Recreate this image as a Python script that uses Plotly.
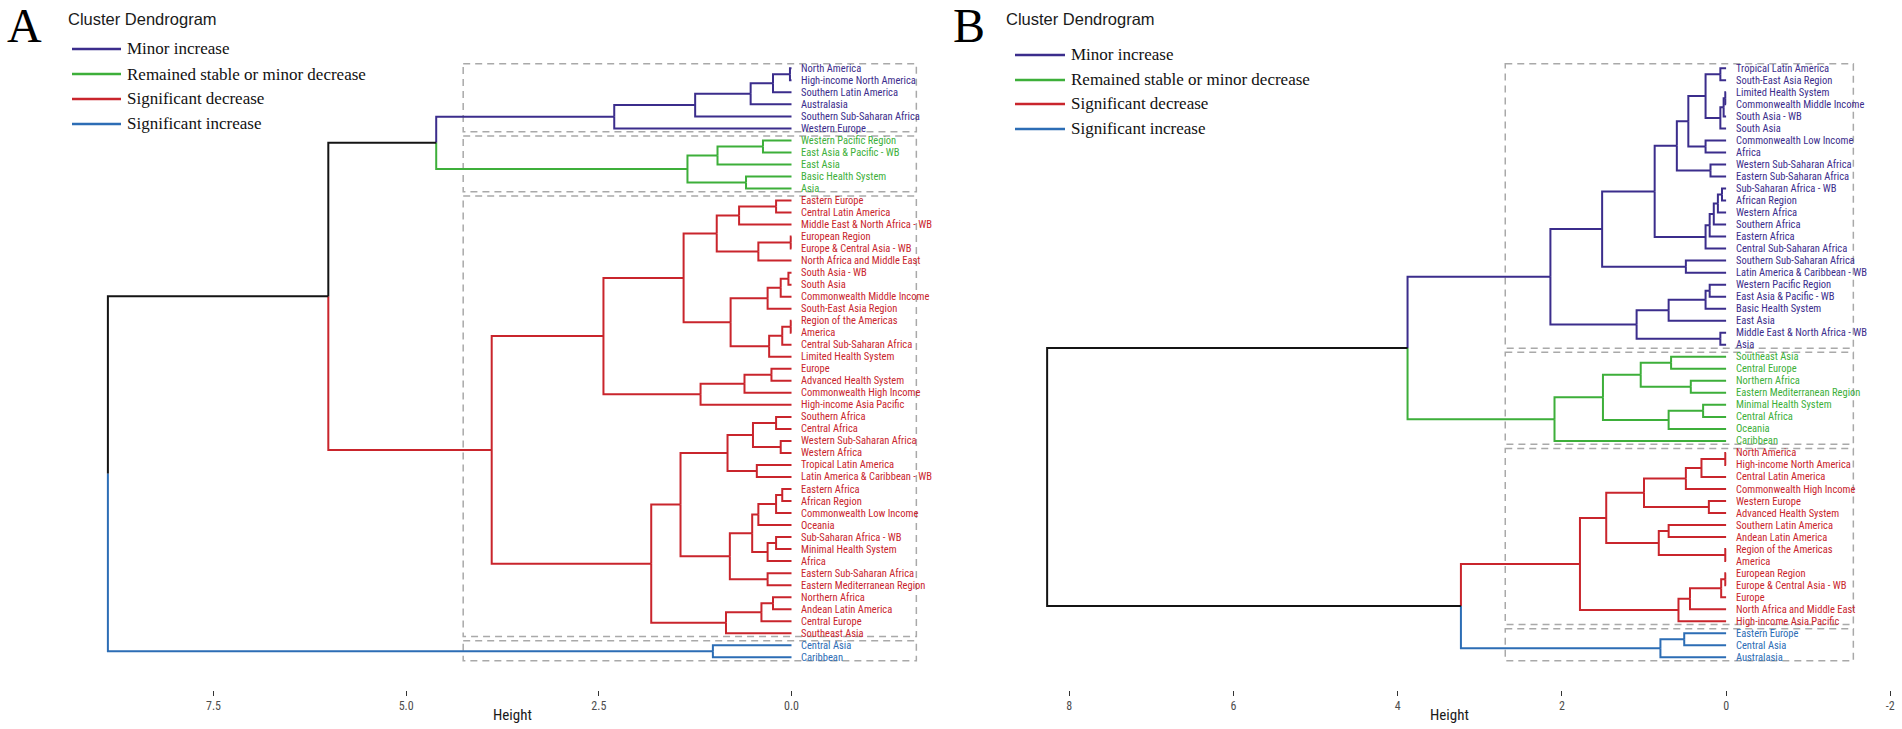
import plotly.graph_objects as go

W, H = 1902, 729

# ---------------- data ----------------
CLUSTER_NAMES = ["Minor increase", "Remained stable or minor decrease",
                 "Significant decrease", "Significant increase"]
CLUSTER_COLORS = ["#3B2D8C", "#3DAF3A", "#C9252C", "#2C6DB5"]
BLACK = "#141414"

# Panel A
A_leaves = [
    "North America", "High-income North America", "Southern Latin America", "Australasia",
    "Southern Sub-Saharan Africa", "Western Europe",
    "Western Pacific Region", "East Asia & Pacific - WB", "East Asia", "Basic Health System", "Asia",
    "Eastern Europe", "Central Latin America", "Middle East & North Africa - WB", "European Region",
    "Europe & Central Asia - WB", "North Africa and Middle East", "South Asia - WB", "South Asia",
    "Commonwealth Middle Income", "South-East Asia Region", "Region of the Americas", "America",
    "Central Sub-Saharan Africa", "Limited Health System", "Europe", "Advanced Health System",
    "Commonwealth High Income", "High-income Asia Pacific", "Southern Africa", "Central Africa",
    "Western Sub-Saharan Africa", "Western Africa", "Tropical Latin America",
    "Latin America & Caribbean - WB", "Eastern Africa", "African Region", "Commonwealth Low Income",
    "Oceania", "Sub-Saharan Africa - WB", "Minimal Health System", "Africa",
    "Eastern Sub-Saharan Africa", "Eastern Mediterranean Region", "Northern Africa",
    "Andean Latin America", "Central Europe", "Southeast Asia",
    "Central Asia", "Caribbean",
]
A_cluster_sizes = [6, 5, 37, 2]
# (left, right, height): a string is a leaf, an int refers to an earlier merge
A_merges = [
    ("North America", "High-income North America", 0.02),          # 0
    (0, "Southern Latin America", 0.24),                            # 1
    (1, "Australasia", 0.53),                                       # 2
    (2, "Southern Sub-Saharan Africa", 1.25),                       # 3
    (3, "Western Europe", 2.30),                                    # 4
    ("Western Pacific Region", "East Asia & Pacific - WB", 0.37),   # 5
    (5, "East Asia", 0.96),                                         # 6
    ("Basic Health System", "Asia", 0.59),                          # 7
    (6, 7, 1.35),                                                   # 8
    (4, 8, 4.61),                                                   # 9
    ("Eastern Europe", "Central Latin America", 0.20),              # 10
    (10, "Middle East & North Africa - WB", 0.68),                  # 11
    ("European Region", "Europe & Central Asia - WB", 0.01),        # 12
    (12, "North Africa and Middle East", 0.43),                     # 13
    (11, 13, 0.97),                                                 # 14
    ("South Asia - WB", "South Asia", 0.04),                        # 15
    (15, "Commonwealth Middle Income", 0.14),                       # 16
    (16, "South-East Asia Region", 0.31),                           # 17
    ("Region of the Americas", "America", 0.01),                    # 18
    (18, "Central Sub-Saharan Africa", 0.12),                       # 19
    (19, "Limited Health System", 0.29),                            # 20
    (17, 20, 0.79),                                                 # 21
    (14, 21, 1.40),                                                 # 22
    ("Europe", "Advanced Health System", 0.26),                     # 23
    (23, "Commonwealth High Income", 0.61),                         # 24
    (24, "High-income Asia Pacific", 1.18),                         # 25
    (22, 25, 2.44),                                                 # 26
    ("Southern Africa", "Central Africa", 0.20),                    # 27
    ("Western Sub-Saharan Africa", "Western Africa", 0.14),         # 28
    (27, 28, 0.50),                                                 # 29
    ("Tropical Latin America", "Latin America & Caribbean - WB", 0.45),  # 30
    (29, 30, 0.83),                                                 # 31
    ("Eastern Africa", "African Region", 0.12),                     # 32
    (32, "Commonwealth Low Income", 0.20),                          # 33
    (33, "Oceania", 0.43),                                          # 34
    ("Sub-Saharan Africa - WB", "Minimal Health System", 0.20),     # 35
    (35, "Africa", 0.31),                                           # 36
    (34, 36, 0.51),                                                 # 37
    ("Eastern Sub-Saharan Africa", "Eastern Mediterranean Region", 0.31),  # 38
    (37, 38, 0.80),                                                 # 39
    (31, 39, 1.44),                                                 # 40
    ("Northern Africa", "Andean Latin America", 0.24),              # 41
    (41, "Central Europe", 0.39),                                   # 42
    (42, "Southeast Asia", 0.85),                                   # 43
    (40, 43, 1.82),                                                 # 44
    (26, 44, 3.89),                                                 # 45
    (9, 45, 6.01),                                                  # 46
    ("Central Asia", "Caribbean", 1.02),                            # 47
    (46, 47, 8.87),                                                 # 48
]
A_tickvals = [7.5, 5.0, 2.5, 0.0]
A_ticktext = ["7.5", "5.0", "2.5", "0.0"]

# Panel B
B_leaves = [
    "Tropical Latin America", "South-East Asia Region", "Limited Health System",
    "Commonwealth Middle Income", "South Asia - WB", "South Asia", "Commonwealth Low Income",
    "Africa", "Western Sub-Saharan Africa", "Eastern Sub-Saharan Africa", "Sub-Saharan Africa - WB",
    "African Region", "Western Africa", "Southern Africa", "Eastern Africa",
    "Central Sub-Saharan Africa", "Southern Sub-Saharan Africa", "Latin America & Caribbean - WB",
    "Western Pacific Region", "East Asia & Pacific - WB", "Basic Health System", "East Asia",
    "Middle East & North Africa - WB", "Asia",
    "Southeast Asia", "Central Europe", "Northern Africa", "Eastern Mediterranean Region",
    "Minimal Health System", "Central Africa", "Oceania", "Caribbean",
    "North America", "High-income North America", "Central Latin America",
    "Commonwealth High Income", "Western Europe", "Advanced Health System",
    "Southern Latin America", "Andean Latin America", "Region of the Americas", "America",
    "European Region", "Europe & Central Asia - WB", "Europe", "North Africa and Middle East",
    "High-income Asia Pacific",
    "Eastern Europe", "Central Asia", "Australasia",
]
B_cluster_sizes = [24, 8, 15, 3]
B_merges = [
    ("Tropical Latin America", "South-East Asia Region", 0.07),     # 0
    ("Limited Health System", "Commonwealth Middle Income", 0.01),  # 1
    (1, "South Asia - WB", 0.03),                                   # 2
    (2, "South Asia", 0.07),                                        # 3
    (0, 3, 0.25),                                                   # 4
    ("Commonwealth Low Income", "Africa", 0.25),                    # 5
    (4, 5, 0.46),                                                   # 6
    ("Western Sub-Saharan Africa", "Eastern Sub-Saharan Africa", 0.19),  # 7
    (6, 7, 0.60),                                                   # 8
    ("Sub-Saharan Africa - WB", "African Region", 0.05),            # 9
    (9, "Western Africa", 0.10),                                    # 10
    (10, "Southern Africa", 0.15),                                  # 11
    (11, "Eastern Africa", 0.20),                                   # 12
    (12, "Central Sub-Saharan Africa", 0.25),                       # 13
    (8, 13, 0.87),                                                  # 14
    ("Southern Sub-Saharan Africa", "Latin America & Caribbean - WB", 0.49),  # 15
    (14, 15, 1.51),                                                 # 16
    ("Western Pacific Region", "East Asia & Pacific - WB", 0.20),   # 17
    (17, "Basic Health System", 0.25),                              # 18
    (18, "East Asia", 0.70),                                        # 19
    ("Middle East & North Africa - WB", "Asia", 0.07),              # 20
    (19, 20, 1.09),                                                 # 21
    (16, 21, 2.14),                                                 # 22
    ("Southeast Asia", "Central Europe", 0.67),                     # 23
    ("Northern Africa", "Eastern Mediterranean Region", 0.43),      # 24
    (23, 24, 1.04),                                                 # 25
    ("Minimal Health System", "Central Africa", 0.28),              # 26
    (26, "Oceania", 0.70),                                          # 27
    (25, 27, 1.50),                                                 # 28
    (28, "Caribbean", 2.09),                                        # 29
    (22, 29, 3.88),                                                 # 30
    ("North America", "High-income North America", 0.01),           # 31
    (31, "Central Latin America", 0.30),                            # 32
    (32, "Commonwealth High Income", 0.49),                         # 33
    ("Western Europe", "Advanced Health System", 0.21),             # 34
    (33, 34, 1.00),                                                 # 35
    ("Southern Latin America", "Andean Latin America", 0.70),       # 36
    ("Region of the Americas", "America", 0.01),                    # 37
    (36, 37, 0.82),                                                 # 38
    (35, 38, 1.46),                                                 # 39
    ("European Region", "Europe & Central Asia - WB", 0.01),        # 40
    (40, "Europe", 0.06),                                           # 41
    (41, "North Africa and Middle East", 0.44),                     # 42
    (42, "High-income Asia Pacific", 0.58),                         # 43
    (39, 43, 1.78),                                                 # 44
    ("Eastern Europe", "Central Asia", 0.51),                       # 45
    (45, "Australasia", 0.80),                                      # 46
    (44, 46, 3.23),                                                 # 47
    (30, 47, 8.27),                                                 # 48
]
B_tickvals = [8, 6, 4, 2, 0, -2]
B_ticktext = ["8", "6", "4", "2", "0", "-2"]

# ---------------- layout helpers ----------------
NARROW = "Liberation Sans Narrow, Arial Narrow, Roboto Condensed, sans-serif"
SANS = "Liberation Sans, Arial, sans-serif"
SERIF = "Liberation Serif, Times New Roman, serif"
BOX_COLOR = "#A9A9A9"

def px_x(px):
    return px / W

def px_y(py):
    return 1 - py / H

# y axis: leaf 1 at px 68.3, spacing 12.02 px; plot bottom at px 690
LEAF0, PITCH, PLOT_BOTTOM = 68.3, 12.02, 690.0
Y_TOP = 1 - LEAF0 / PITCH
Y_BOT = 1 + (PLOT_BOTTOM - LEAF0) / PITCH
Y_DOMAIN = [(H - PLOT_BOTTOM) / H, 1]


def dendro_segments(leaves, sizes, merges):
    leaf_cluster = []
    for ci, s in enumerate(sizes):
        leaf_cluster += [ci] * s
    info = {}
    for i, name in enumerate(leaves):
        info[name] = (0.0, i + 1.0, {leaf_cluster[i]})
    nodes = []
    segs = {}
    for k, (l, r, h) in enumerate(merges):
        cl = info[l] if isinstance(l, str) else nodes[l]
        cr = info[r] if isinstance(r, str) else nodes[r]
        y = (cl[1] + cr[1]) / 2.0
        for ch in (cl, cr):
            col = CLUSTER_COLORS[next(iter(ch[2]))] if len(ch[2]) == 1 else BLACK
            xs, ys = segs.setdefault(col, ([], []))
            xs += [ch[0], h, h, None]
            ys += [ch[1], ch[1], y, None]
        nodes.append((h, y, cl[2] | cr[2]))
    return segs, leaf_cluster


fig = go.Figure()

panels = [
    dict(leaves=A_leaves, sizes=A_cluster_sizes, merges=A_merges, xa="x", ya="y",
         tickvals=A_tickvals, ticktext=A_ticktext,
         box=(4.26, -1.62), label_shift=7, letter="A", letter_x=5,
         title_x=68, leg_line=(72, 121), leg_text=127, leg_rows=[49, 74, 99, 124],
         height_x=512),
    dict(leaves=B_leaves, sizes=B_cluster_sizes, merges=B_merges, xa="x2", ya="y2",
         tickvals=B_tickvals, ticktext=B_ticktext,
         box=(2.69, -1.55), label_shift=8, letter="B", letter_x=951,
         title_x=1006, leg_line=(1015, 1065), leg_text=1071, leg_rows=[55, 80, 104, 129],
         height_x=1449),
]

shapes = []
annotations = []

for p in panels:
    segs, leaf_cluster = dendro_segments(p["leaves"], p["sizes"], p["merges"])
    for col, (xs, ys) in segs.items():
        fig.add_trace(go.Scatter(x=xs, y=ys, mode="lines", xaxis=p["xa"], yaxis=p["ya"],
                                 line=dict(color=col, width=2), hoverinfo="skip",
                                 showlegend=False))
    # leaf labels
    for i, name in enumerate(p["leaves"]):
        annotations.append(dict(
            x=0, y=i + 1, xref=p["xa"], yref=p["ya"], text=name, showarrow=False,
            xanchor="left", yanchor="middle", xshift=p["label_shift"],
            font=dict(family=NARROW, size=10.5, color=CLUSTER_COLORS[leaf_cluster[i]])))
    # dashed cluster boxes
    start = 1
    for s in p["sizes"]:
        shapes.append(dict(type="rect", xref=p["xa"], yref=p["ya"],
                           x0=p["box"][0], x1=p["box"][1],
                           y0=start - 0.37, y1=start + s - 1 + 0.28,
                           line=dict(color=BOX_COLOR, width=1.5, dash="7px,5px"),
                           fillcolor="rgba(0,0,0,0)", layer="below"))
        start += s
    # panel letter, title, legend, axis title
    annotations.append(dict(x=px_x(p["letter_x"]), y=px_y(26), xref="paper", yref="paper",
                            text=p["letter"], showarrow=False, xanchor="left", yanchor="middle",
                            font=dict(family=SERIF, size=48, color="#000000")))
    annotations.append(dict(x=px_x(p["title_x"]), y=px_y(19), xref="paper", yref="paper",
                            text="Cluster Dendrogram", showarrow=False, xanchor="left",
                            yanchor="middle", xshift=-2,
                            font=dict(family=SANS, size=16.5, color="#1A1A1A")))
    for name, col, row in zip(CLUSTER_NAMES, CLUSTER_COLORS, p["leg_rows"]):
        shapes.append(dict(type="line", xref="paper", yref="paper",
                           x0=px_x(p["leg_line"][0]), x1=px_x(p["leg_line"][1]),
                           y0=px_y(row), y1=px_y(row), line=dict(color=col, width=2.5)))
        annotations.append(dict(x=px_x(p["leg_text"]), y=px_y(row), xref="paper", yref="paper",
                                text=name, showarrow=False, xanchor="left", yanchor="middle",
                                xshift=-2,
                                font=dict(family=SERIF, size=17, color="#111111")))
    annotations.append(dict(x=px_x(p["height_x"]), y=px_y(715), xref="paper", yref="paper",
                            text="Height", showarrow=False, xanchor="center", yanchor="middle",
                            font=dict(family=NARROW, size=15, color="#1A1A1A")))

# axis ranges from pixel calibration
A_range = [791.5 / 77.07, (791.5 - 951) / 77.07]
B_range = [(1726.1 - 951) / 82.1, (1726.1 - 1902) / 82.1]

axis_common = dict(showgrid=False, zeroline=False, showline=False, ticks="outside",
                   ticklen=5, tickwidth=1.3, tickcolor="#333333",
                   tickfont=dict(family=NARROW, size=12, color="#4D4D4D"),
                   tickmode="array", fixedrange=True)
yaxis_common = dict(showgrid=False, zeroline=False, showline=False, showticklabels=False,
                    ticks="", range=[Y_BOT, Y_TOP], domain=Y_DOMAIN, fixedrange=True)

fig.update_layout(
    width=W, height=H,
    margin=dict(l=0, r=0, t=0, b=0, autoexpand=False),
    paper_bgcolor="white", plot_bgcolor="rgba(0,0,0,0)",
    showlegend=False,
    xaxis=dict(domain=[0, 951 / W], range=A_range, tickvals=A_tickvals, ticktext=A_ticktext,
               anchor="y", **axis_common),
    yaxis=dict(anchor="x", **yaxis_common),
    xaxis2=dict(domain=[951 / W, 1], range=B_range, tickvals=B_tickvals, ticktext=B_ticktext,
                anchor="y2", **axis_common),
    yaxis2=dict(anchor="x2", **yaxis_common),
    shapes=shapes,
    annotations=annotations,
)

fig.write_html(
    "out.html",
    config={"displayModeBar": False},
    post_script="document.body.style.margin='0px';document.body.style.overflow='hidden';",
)
